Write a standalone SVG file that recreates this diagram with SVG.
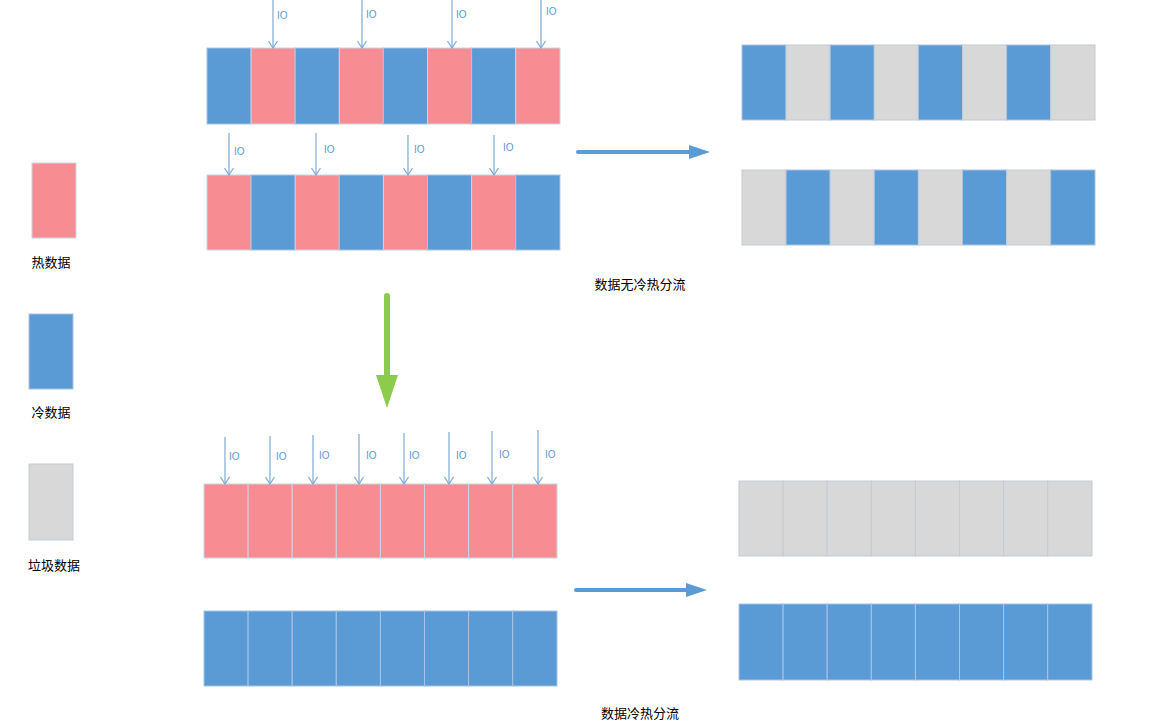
<svg xmlns="http://www.w3.org/2000/svg" width="1152" height="727" viewBox="0 0 1152 727">
<style>
.h{fill:#F78D92;stroke:#C9D5E6;stroke-width:1}
.c{fill:#5B9BD5;stroke:#A9C4E2;stroke-width:1}
.g{fill:#D8D8D8;stroke:#C4CBD6;stroke-width:1}
.io{stroke:#7EA9D6;stroke-width:1.2;fill:none}
.iot{font-family:"Liberation Sans",Arial,sans-serif;font-size:10px;fill:#5B9BD5}
.lbl{font-family:"Noto Sans CJK SC",sans-serif;font-size:13px;fill:#000;text-anchor:middle}
</style>
<defs>
<marker id="v" viewBox="0 0 12 10" refX="6" refY="9" markerWidth="12" markerHeight="10" markerUnits="userSpaceOnUse" orient="0">
<path d="M1.5,2 L6,9 L10.5,2" fill="none" stroke="#7EA9D6" stroke-width="1.2"/>
</marker>
</defs>
<rect width="1152" height="727" fill="#fff"/>

<g id="legend">
<rect class="h" x="32" y="163" width="44" height="75"/>
<text class="lbl" x="51" y="267">热数据</text>
<rect class="c" x="29" y="314" width="44" height="75"/>
<text class="lbl" x="51" y="417">冷数据</text>
<rect class="g" x="29" y="464" width="44" height="76"/>
<text class="lbl" x="54" y="570">垃圾数据</text>
</g>

<g id="row-top1">
<rect class="c" x="207" y="48" width="44.1" height="76"/>
<rect class="h" x="251.1" y="48" width="44.1" height="76"/>
<rect class="c" x="295.2" y="48" width="44.1" height="76"/>
<rect class="h" x="339.3" y="48" width="44.1" height="76"/>
<rect class="c" x="383.4" y="48" width="44.1" height="76"/>
<rect class="h" x="427.5" y="48" width="44.1" height="76"/>
<rect class="c" x="471.6" y="48" width="44.1" height="76"/>
<rect class="h" x="515.7" y="48" width="44.3" height="76"/>
</g>
<g id="row-top2">
<rect class="h" x="207" y="175" width="44.1" height="75"/>
<rect class="c" x="251.1" y="175" width="44.1" height="75"/>
<rect class="h" x="295.2" y="175" width="44.1" height="75"/>
<rect class="c" x="339.3" y="175" width="44.1" height="75"/>
<rect class="h" x="383.4" y="175" width="44.1" height="75"/>
<rect class="c" x="427.5" y="175" width="44.1" height="75"/>
<rect class="h" x="471.6" y="175" width="44.1" height="75"/>
<rect class="c" x="515.7" y="175" width="44.3" height="75"/>
</g>
<g id="row-right1">
<rect class="c" x="742" y="45" width="44.1" height="75"/>
<rect class="g" x="786.1" y="45" width="44.1" height="75"/>
<rect class="c" x="830.2" y="45" width="44.1" height="75"/>
<rect class="g" x="874.3" y="45" width="44.1" height="75"/>
<rect class="c" x="918.4" y="45" width="44.1" height="75"/>
<rect class="g" x="962.5" y="45" width="44.1" height="75"/>
<rect class="c" x="1006.6" y="45" width="44.1" height="75"/>
<rect class="g" x="1050.7" y="45" width="44.3" height="75"/>
</g>
<g id="row-right2">
<rect class="g" x="742" y="170" width="44.1" height="75"/>
<rect class="c" x="786.1" y="170" width="44.1" height="75"/>
<rect class="g" x="830.2" y="170" width="44.1" height="75"/>
<rect class="c" x="874.3" y="170" width="44.1" height="75"/>
<rect class="g" x="918.4" y="170" width="44.1" height="75"/>
<rect class="c" x="962.5" y="170" width="44.1" height="75"/>
<rect class="g" x="1006.6" y="170" width="44.1" height="75"/>
<rect class="c" x="1050.7" y="170" width="44.3" height="75"/>
</g>
<g id="row-bottom-hot">
<rect class="h" x="204" y="484" width="44.1" height="74"/>
<rect class="h" x="248.1" y="484" width="44.1" height="74"/>
<rect class="h" x="292.2" y="484" width="44.1" height="74"/>
<rect class="h" x="336.3" y="484" width="44.1" height="74"/>
<rect class="h" x="380.4" y="484" width="44.1" height="74"/>
<rect class="h" x="424.5" y="484" width="44.1" height="74"/>
<rect class="h" x="468.6" y="484" width="44.1" height="74"/>
<rect class="h" x="512.7" y="484" width="44.3" height="74"/>
</g>
<g id="row-bottom-cold">
<rect class="c" x="204" y="611" width="44.1" height="75"/>
<rect class="c" x="248.1" y="611" width="44.1" height="75"/>
<rect class="c" x="292.2" y="611" width="44.1" height="75"/>
<rect class="c" x="336.3" y="611" width="44.1" height="75"/>
<rect class="c" x="380.4" y="611" width="44.1" height="75"/>
<rect class="c" x="424.5" y="611" width="44.1" height="75"/>
<rect class="c" x="468.6" y="611" width="44.1" height="75"/>
<rect class="c" x="512.7" y="611" width="44.3" height="75"/>
</g>
<g id="row-right-garbage">
<rect class="g" x="739" y="481" width="44.1" height="75"/>
<rect class="g" x="783.1" y="481" width="44.1" height="75"/>
<rect class="g" x="827.2" y="481" width="44.1" height="75"/>
<rect class="g" x="871.3" y="481" width="44.1" height="75"/>
<rect class="g" x="915.4" y="481" width="44.1" height="75"/>
<rect class="g" x="959.5" y="481" width="44.1" height="75"/>
<rect class="g" x="1003.6" y="481" width="44.1" height="75"/>
<rect class="g" x="1047.7" y="481" width="44.3" height="75"/>
</g>
<g id="row-right-cold">
<rect class="c" x="739" y="604" width="44.1" height="76"/>
<rect class="c" x="783.1" y="604" width="44.1" height="76"/>
<rect class="c" x="827.2" y="604" width="44.1" height="76"/>
<rect class="c" x="871.3" y="604" width="44.1" height="76"/>
<rect class="c" x="915.4" y="604" width="44.1" height="76"/>
<rect class="c" x="959.5" y="604" width="44.1" height="76"/>
<rect class="c" x="1003.6" y="604" width="44.1" height="76"/>
<rect class="c" x="1047.7" y="604" width="44.3" height="76"/>
</g>

<g id="connectors">
<g class="io" marker-end="url(#v)">
<line x1="273" y1="0" x2="273" y2="48"/>
<line x1="362" y1="0" x2="362" y2="48"/>
<line x1="452" y1="0" x2="452" y2="48"/>
<line x1="541" y1="0" x2="541" y2="48"/>
<line x1="229" y1="133" x2="229" y2="175"/>
<line x1="316" y1="133" x2="316" y2="175"/>
<line x1="408" y1="135" x2="408" y2="175"/>
<line x1="494" y1="135" x2="494" y2="175"/>
<line x1="225" y1="437" x2="225" y2="484"/>
<line x1="270" y1="436" x2="270" y2="484"/>
<line x1="313" y1="435" x2="313" y2="484"/>
<line x1="359" y1="434" x2="359" y2="484"/>
<line x1="404" y1="433" x2="404" y2="484"/>
<line x1="449" y1="432" x2="449" y2="484"/>
<line x1="492" y1="431" x2="492" y2="484"/>
<line x1="538" y1="430" x2="538" y2="484"/>
</g>
<path d="M578,152 L692,152" stroke="#5B9BD5" stroke-width="4" stroke-linecap="round" fill="none"/>
<path d="M689,145 L710,152 L689,159 Z" fill="#5B9BD5"/>
<path d="M576,590 L689,590" stroke="#5B9BD5" stroke-width="4" stroke-linecap="round" fill="none"/>
<path d="M686,583 L707,590 L686,597 Z" fill="#5B9BD5"/>
<path d="M387,296 L387,378" stroke="#8DCB4B" stroke-width="6" stroke-linecap="round" fill="none"/>
<path d="M376,375 L398,375 L387,408 Z" fill="#8DCB4B"/>
</g>

<g id="io-labels">
<text class="iot" x="277" y="19">IO</text>
<text class="iot" x="366" y="18">IO</text>
<text class="iot" x="456" y="18">IO</text>
<text class="iot" x="546" y="15">IO</text>
<text class="iot" x="234" y="155">IO</text>
<text class="iot" x="324" y="153">IO</text>
<text class="iot" x="414" y="153">IO</text>
<text class="iot" x="503" y="151">IO</text>
<text class="iot" x="229" y="460">IO</text>
<text class="iot" x="276" y="460">IO</text>
<text class="iot" x="319" y="459">IO</text>
<text class="iot" x="366" y="459">IO</text>
<text class="iot" x="409" y="459">IO</text>
<text class="iot" x="456" y="459">IO</text>
<text class="iot" x="499" y="458">IO</text>
<text class="iot" x="545" y="458">IO</text>
</g>

<text class="lbl" x="640" y="289">数据无冷热分流</text>
<text class="lbl" x="640" y="718">数据冷热分流</text>
</svg>
